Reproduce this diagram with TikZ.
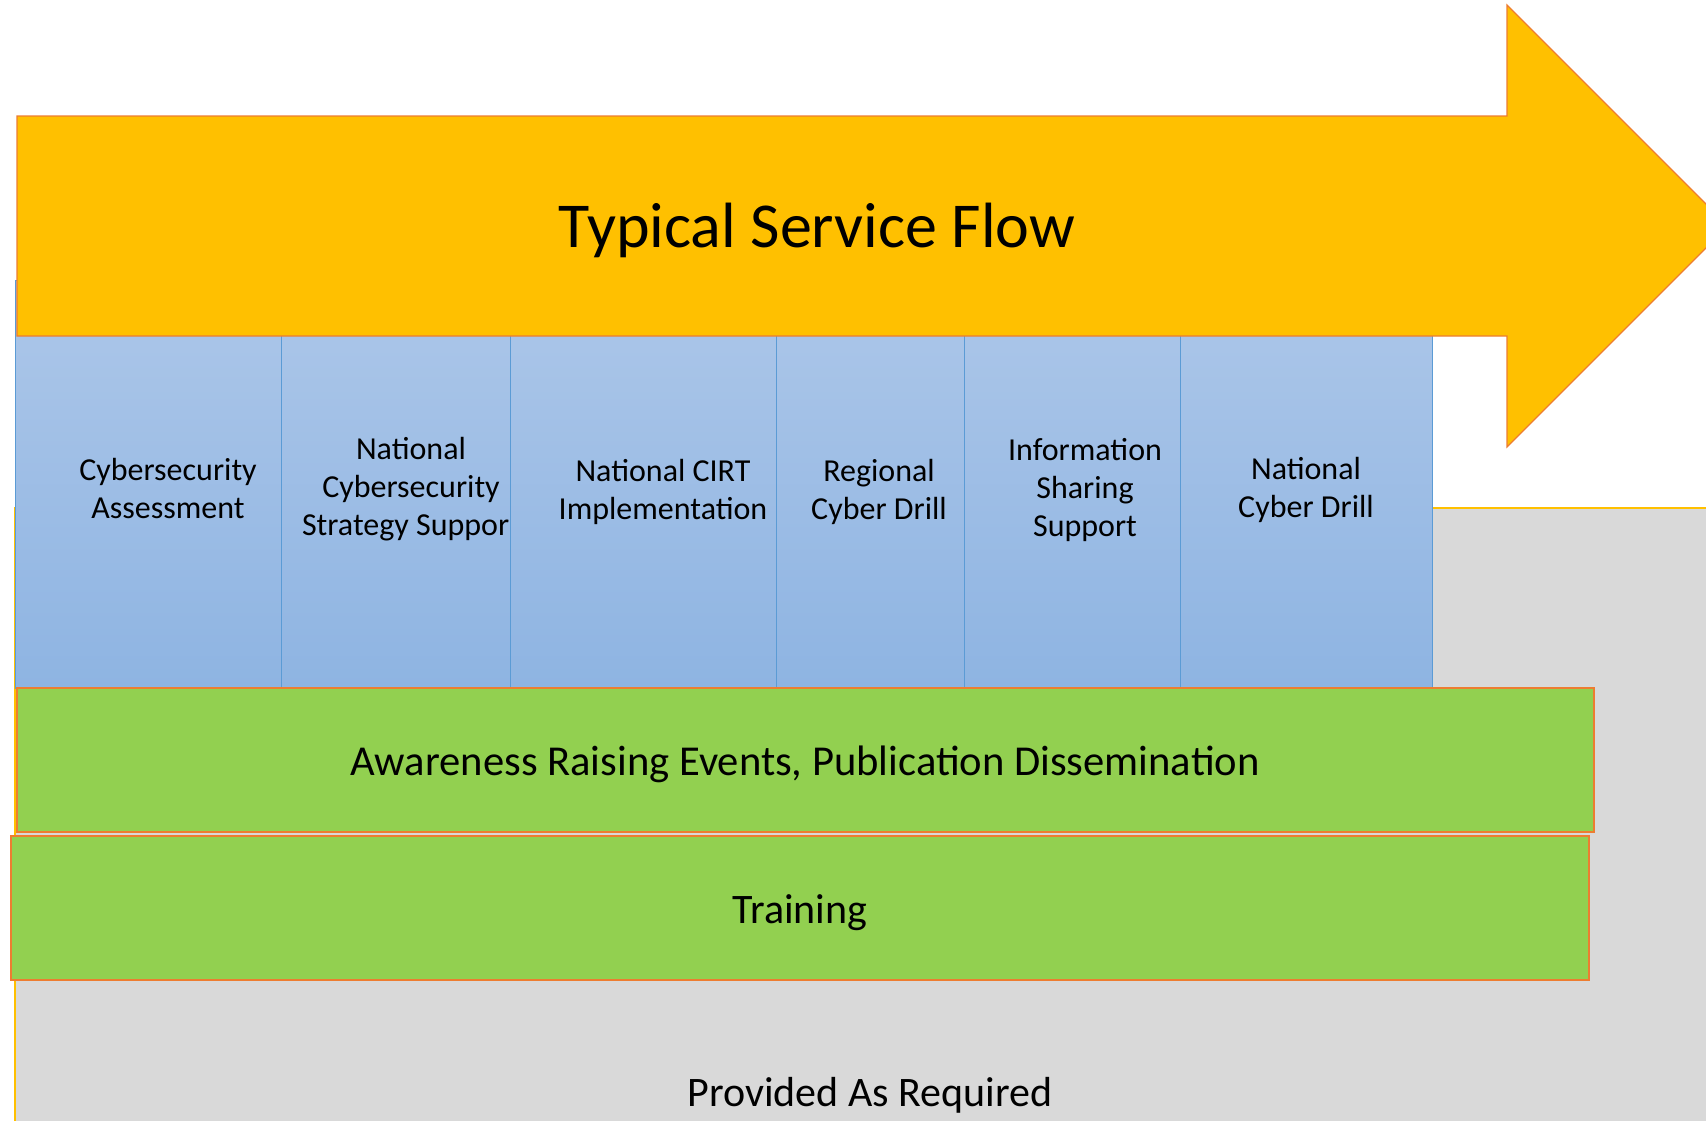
\documentclass[tikz,border=0pt]{standalone}
\usepackage{fontspec}
\setmainfont{Carlito}

\definecolor{flowyellow}{HTML}{FFC000}
\definecolor{flowedge}{HTML}{ED7D31}
\definecolor{stepgreen}{HTML}{92D050}
\definecolor{basegray}{HTML}{D9D9D9}
\definecolor{coltop}{HTML}{ADC7E9}
\definecolor{colbottom}{HTML}{8EB4E2}
\definecolor{colline}{HTML}{5B9BD5}

\tikzset{
  colbox/.style={draw=colline, line width=0.5pt, top color=coltop, bottom color=colbottom},
  bar/.style={draw=flowedge, line width=1pt, fill=stepgreen},
  coltext/.style={align=center, anchor=base, inner sep=0pt, font=\fontsize{16}{19}\selectfont},
  bartext/.style={anchor=base, inner sep=0pt, font=\fontsize{21}{25}\selectfont}
}

\begin{document}
\begin{tikzpicture}[x=0.5pt, y=-0.5pt]
\useasboundingbox (0,0) rectangle (1706,1120);
\clip (0,0) rectangle (1706,1120);

% grey base behind everything
\draw[fill=basegray, draw=flowyellow, line width=0.6pt] (15,508) rectangle (1720,1130);

% service columns
\foreach \a/\b in {15/281, 281/510, 510/776, 776/964, 964/1180, 1180/1432}
  \draw[colbox] (\a,280) rectangle (\b,688);

% big arrow
\draw[fill=flowyellow, draw=flowedge, line width=0.6pt] (17,116) -- (1507,116) -- (1507,5) -- (1728,226)
  -- (1507,447) -- (1507,336) -- (17,336) -- cycle;
\node[anchor=base, inner sep=0pt, font=\fontsize{32}{38}\selectfont] (flow) at (817,247) {Typical Service Flow};

% green bars
\draw[bar] (17,688) rectangle (1594,832);
\draw[bar] (11,836) rectangle (1589,980);

% base of a multi-line node is its last line
\node[coltext] (assess) at (168,518) {Cybersecurity\\Assessment};
\node[coltext] (strategy) at (411,535) {National\\Cybersecurity\\Strategy Suppor\phantom{t}};
\node[coltext] (cirt) at (663,519) {National CIRT\\Implementation};
\node[coltext] (regional) at (879,519) {Regional\\Cyber Drill};
\node[coltext] (sharing) at (1085,536) {Information\\Sharing\\Support};
\node[coltext] (drill) at (1306,517) {National\\Cyber Drill};

\node[bartext, font=\fontsize{21.3}{25}\selectfont] (aware) at (805,775) {Awareness Raising Events, Publication Dissemination};
\node[bartext] (train) at (800,923) {Training};
\node[bartext] (provided) at (870,1106) {Provided As Required};
\end{tikzpicture}
\end{document}
